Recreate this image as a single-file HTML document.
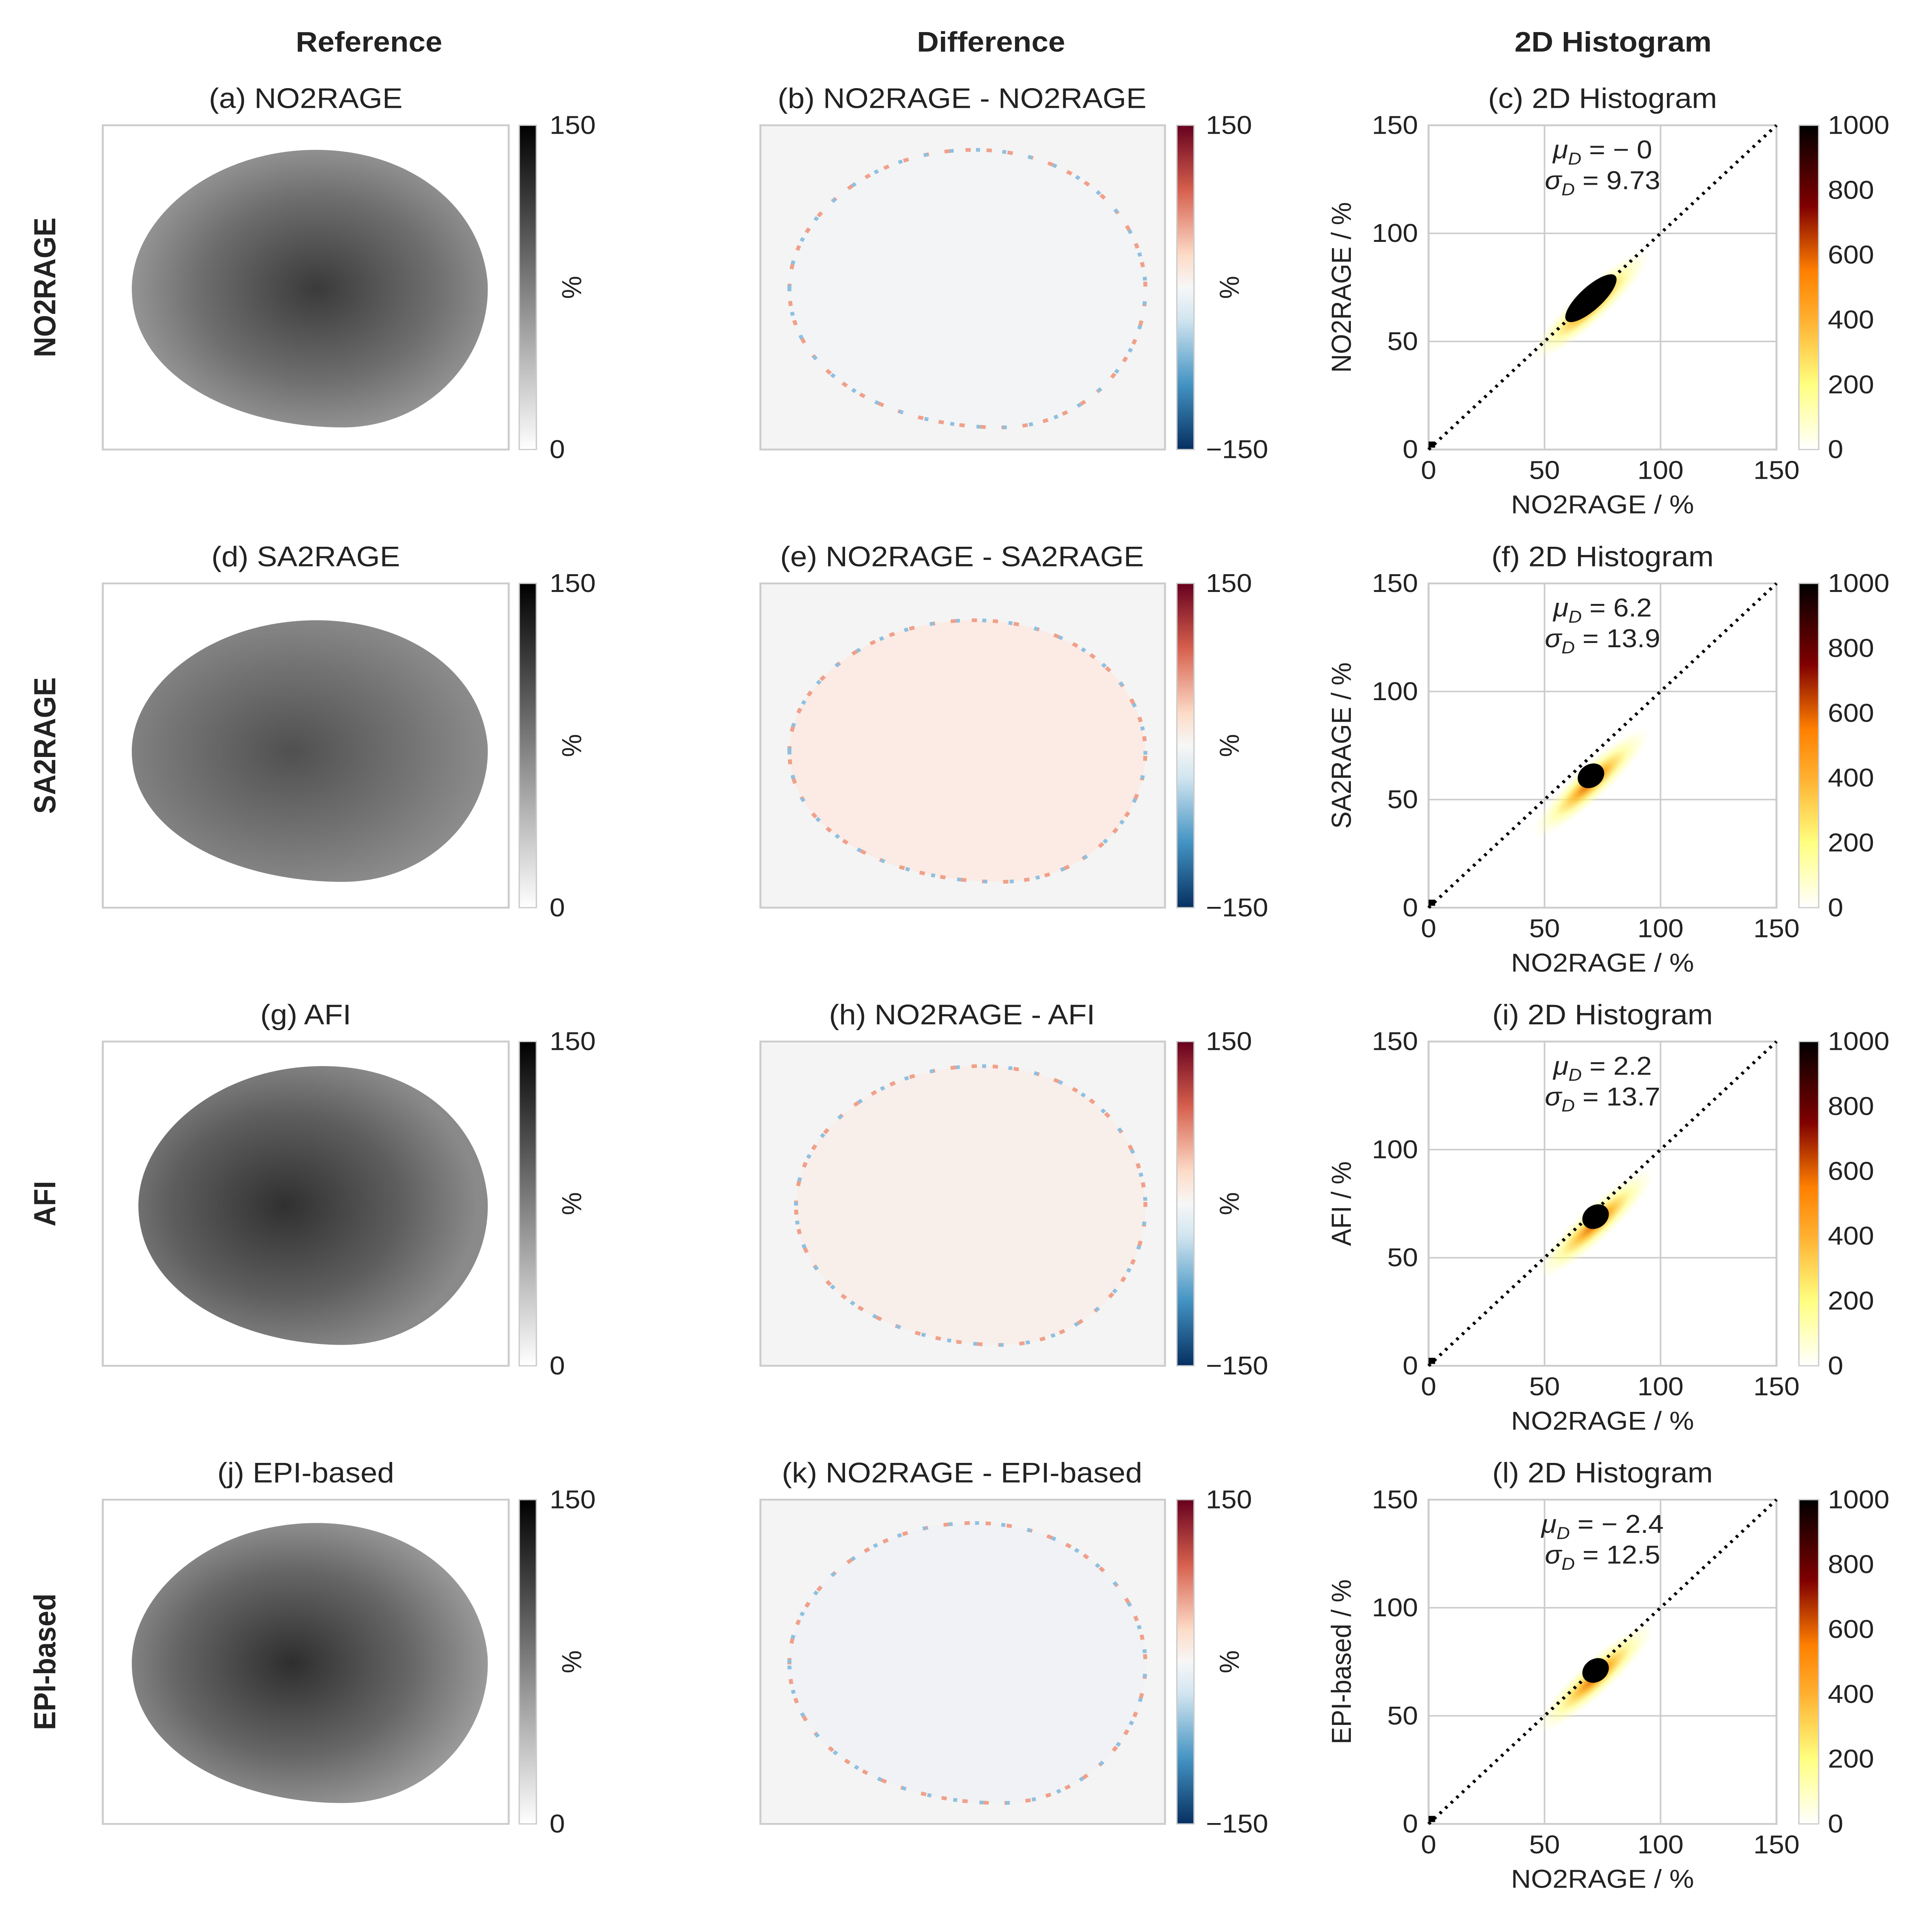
<!DOCTYPE html>
<html><head><meta charset="utf-8"><style>
html,body{margin:0;padding:0;background:#fff;overflow:hidden}
svg{display:block;font-family:"Liberation Sans","DejaVu Sans",sans-serif;position:fixed;left:0;top:0;width:100vw;height:100vh}
</style></head><body>
<svg id="root" viewBox="0 0 1466 1573" preserveAspectRatio="none" xmlns="http://www.w3.org/2000/svg">
<defs>
<linearGradient id="gGray" x1="0" y1="1" x2="0" y2="0"><stop offset="0" stop-color="#fff"/><stop offset="1" stop-color="#000"/></linearGradient>
<linearGradient id="gRdBu" x1="0" y1="1" x2="0" y2="0"><stop offset="0" stop-color="#053061"/><stop offset="0.2" stop-color="#4393c3"/><stop offset="0.4" stop-color="#d1e5f0"/><stop offset="0.5" stop-color="#f7f7f7"/><stop offset="0.6" stop-color="#fddbc7"/><stop offset="0.8" stop-color="#d6604d"/><stop offset="1" stop-color="#67001f"/></linearGradient>
<linearGradient id="gHot" x1="0" y1="1" x2="0" y2="0"><stop offset="0" stop-color="#ffffff"/><stop offset="0.2" stop-color="#ffff80"/><stop offset="0.4" stop-color="#ffb030"/><stop offset="0.55" stop-color="#ff8000"/><stop offset="0.75" stop-color="#800000"/><stop offset="1" stop-color="#000"/></linearGradient>
<radialGradient id="brain1" cx="0.52" cy="0.5" r="0.55"><stop offset="0" stop-color="#3a3a3a"/><stop offset="0.6" stop-color="#6e6e6e"/><stop offset="1" stop-color="#9a9a9a"/></radialGradient>
<radialGradient id="brain2" cx="0.45" cy="0.5" r="0.55"><stop offset="0" stop-color="#505050"/><stop offset="0.6" stop-color="#737373"/><stop offset="1" stop-color="#8c8c8c"/></radialGradient>
<radialGradient id="brain3" cx="0.42" cy="0.5" r="0.55"><stop offset="0" stop-color="#303030"/><stop offset="0.6" stop-color="#5e5e5e"/><stop offset="1" stop-color="#8a8a8a"/></radialGradient>
<radialGradient id="brain4" cx="0.45" cy="0.5" r="0.55"><stop offset="0" stop-color="#2e2e2e"/><stop offset="0.6" stop-color="#666"/><stop offset="1" stop-color="#999"/></radialGradient>
<radialGradient id="blob" cx="0.5" cy="0.5" r="0.5"><stop offset="0" stop-color="#e06000" stop-opacity="1"/><stop offset="0.3" stop-color="#ffc030" stop-opacity="0.9"/><stop offset="0.6" stop-color="#ffff80" stop-opacity="0.6"/><stop offset="1" stop-color="#ffffc0" stop-opacity="0"/></radialGradient>
</defs>
<g id="fig"></g>
</svg>
<script>
const rowNames=["NO2RAGE","SA2RAGE","AFI","EPI-based"];
const refTitles=["(a) NO2RAGE","(d) SA2RAGE","(g) AFI","(j) EPI-based"];
const diffTitles=["(b) NO2RAGE - NO2RAGE","(e) NO2RAGE - SA2RAGE","(h) NO2RAGE - AFI","(k) NO2RAGE - EPI-based"];
const histTitles=["(c) 2D Histogram","(f) 2D Histogram","(i) 2D Histogram","(l) 2D Histogram"];
const muVals=["\u2212 0","6.2","2.2","\u2212 2.4"];
const sigmaVals=["9.73","13.9","13.7","12.5"];
const peakX=[70,70,72,72];
const peakY=[70,61,69,71];
const axisTicks=[0,50,100,150];
const countTicks=[0,200,400,600,800,1000];
const svg=document.getElementById('fig');
const NS="http://www.w3.org/2000/svg";
function el(t,a,txt){const e=document.createElementNS(NS,t);for(const k in a)e.setAttribute(k,a[k]);if(txt!==undefined)e.textContent=txt;svg.appendChild(e);return e;}
const rowTop=[102,475,848,1221],H=264;
const shapeT=[20,30,20,19],shapeB=[246,243,247,247],shapeL=[22,22,27,22];
function brainPath(ox,oy,r){
 const L=ox+shapeL[r],R=ox+292,T=oy+shapeT[r],B=oy+shapeB[r],h=B-T,m=T+h/2;
 return `M${L},${m} C${L},${T+0.25*h} ${L+60},${T} ${L+140},${T} C${L+210},${T} ${R-5},${T+0.2*h} ${R},${m-5} C${R+3},${T+0.75*h} ${R-45},${B} ${R-110},${B} C${L+80},${B} ${L},${T+0.82*h} ${L},${m} Z`;
}
const FS=23,TS=21;
[["Reference",280],["Difference",752],["2D Histogram",1224]].forEach(([t,x])=>{
 const e=el('text',{x:x,y:42,'text-anchor':'middle','font-size':FS,'font-weight':'bold',fill:'#222'},t);
 });
rowTop.forEach((y0,r)=>{
 const rl=el('text',{x:0,y:0,transform:`translate(42,${y0+H/2}) rotate(-90)`,'text-anchor':'middle','font-size':FS,'font-weight':'bold',fill:'#222'},rowNames[r]);
 
 let t=el('text',{x:232,y:y0-14,'text-anchor':'middle','font-size':FS,fill:'#222'},refTitles[r]);
 
 let f=el('rect',{x:78,y:y0,width:308,height:H,fill:'#fff',stroke:'#ccc','stroke-width':1.5});
 
 const b=el('path',{d:brainPath(78,y0,r),fill:`url(#brain${r+1})`});
 
 let cb=el('rect',{x:394,y:y0,width:13,height:H,fill:'url(#gGray)',stroke:'#ccc'});
 
 el('text',{x:417,y:y0+7,'font-size':TS,fill:'#222'},'150');
 el('text',{x:417,y:y0+H+7,'font-size':TS,fill:'#222'},'0');
 el('text',{x:0,y:0,transform:`translate(441,${y0+H/2}) rotate(-90)`,'text-anchor':'middle','font-size':TS,fill:'#222'},'%');
 t=el('text',{x:730,y:y0-14,'text-anchor':'middle','font-size':FS,fill:'#222'},diffTitles[r]);
 
 f=el('rect',{x:577,y:y0,width:307,height:H,fill:'#f4f4f4',stroke:'#ccc','stroke-width':1.5});
 
 const fills=['#f3f4f6','#fbebe4','#f8eeea','#f0f2f5'];
 const d=el('path',{d:brainPath(577,y0,r),fill:fills[r],stroke:'#f0a08a','stroke-width':3,'stroke-dasharray':'4 12'});
 
 el('path',{d:brainPath(577,y0,r),fill:'none',stroke:'#8ec0e0','stroke-width':3,'stroke-dasharray':'3 17'});
 cb=el('rect',{x:893,y:y0,width:13,height:H,fill:'url(#gRdBu)',stroke:'#ccc'});
 
 el('text',{x:915,y:y0+7,'font-size':TS,fill:'#222'},'150');
 el('text',{x:915,y:y0+H+7,'font-size':TS,fill:'#222'},'\u2212150');
 el('text',{x:0,y:0,transform:`translate(940,${y0+H/2}) rotate(-90)`,'text-anchor':'middle','font-size':TS,fill:'#222'},'%');
 const ax0=1084,aw=264;
 const sx=v=>ax0+v/150*aw, sy=v=>y0+H-v/150*H;
 t=el('text',{x:1216,y:y0-14,'text-anchor':'middle','font-size':FS,fill:'#222'},histTitles[r]);
 
 f=el('rect',{x:ax0,y:y0,width:aw,height:H,fill:'#fff',stroke:'#ccc','stroke-width':1.5});
 
 axisTicks.forEach(v=>{
  el('line',{x1:sx(v),x2:sx(v),y1:y0,y2:y0+H,stroke:'#ccc','stroke-width':1.2});
  el('line',{x1:ax0,x2:ax0+aw,y1:sy(v),y2:sy(v),stroke:'#ccc','stroke-width':1.2});
  let tk=el('text',{x:sx(v),y:y0+H+24,'text-anchor':'middle','font-size':TS,fill:'#222'},String(v));
  
  tk=el('text',{x:ax0-8,y:sy(v)+7,'text-anchor':'end','font-size':TS,fill:'#222'},String(v));
  
 });
 const px=sx(peakX[r]),py=sy(peakY[r]);
 const g=el('ellipse',{cx:px-4,cy:py+4,rx:62,ry:14,fill:'url(#blob)',transform:`rotate(-45 ${px} ${py})`});
 
 const k=el('ellipse',{cx:px,cy:py,rx:r==0?26:11,ry:r==0?9:9,fill:'#000',transform:`rotate(-45 ${px} ${py})`});
 
 el('rect',{x:sx(0),y:sy(2)-3,width:5,height:5,fill:'#000'});
 const dl=el('line',{x1:sx(0),y1:sy(0),x2:sx(150),y2:sy(150),stroke:'#000','stroke-width':2.5,'stroke-dasharray':'2 4'});
 
 const mt=el('text',{x:1216,y:y0+27,'text-anchor':'middle','font-size':TS,fill:'#222'});
 mt.innerHTML=`<tspan font-style="italic">μ</tspan><tspan font-size="14" font-style="italic" dy="5">D</tspan><tspan dy="-5"> = ${muVals[r]}</tspan>`;
 
 const st=el('text',{x:1216,y:y0+52,'text-anchor':'middle','font-size':TS,fill:'#222'});
 st.innerHTML=`<tspan font-style="italic">σ</tspan><tspan font-size="14" font-style="italic" dy="5">D</tspan><tspan dy="-5"> = ${sigmaVals[r]}</tspan>`;
 
 let xl=el('text',{x:1216,y:y0+H+52,'text-anchor':'middle','font-size':TS,fill:'#222'},'NO2RAGE / %');
 
 xl=el('text',{x:0,y:0,transform:`translate(1025,${y0+H/2}) rotate(-90)`,'text-anchor':'middle','font-size':TS,fill:'#222'},rowNames[r]+' / %');
 
 cb=el('rect',{x:1365,y:y0,width:15,height:H,fill:'url(#gHot)',stroke:'#ccc'});
 
 countTicks.forEach(v=>{
  const tk=el('text',{x:1387,y:y0+H-v/1000*H+7,'font-size':TS,fill:'#222'},String(v));
  
 });
});
</script>
</body></html>
